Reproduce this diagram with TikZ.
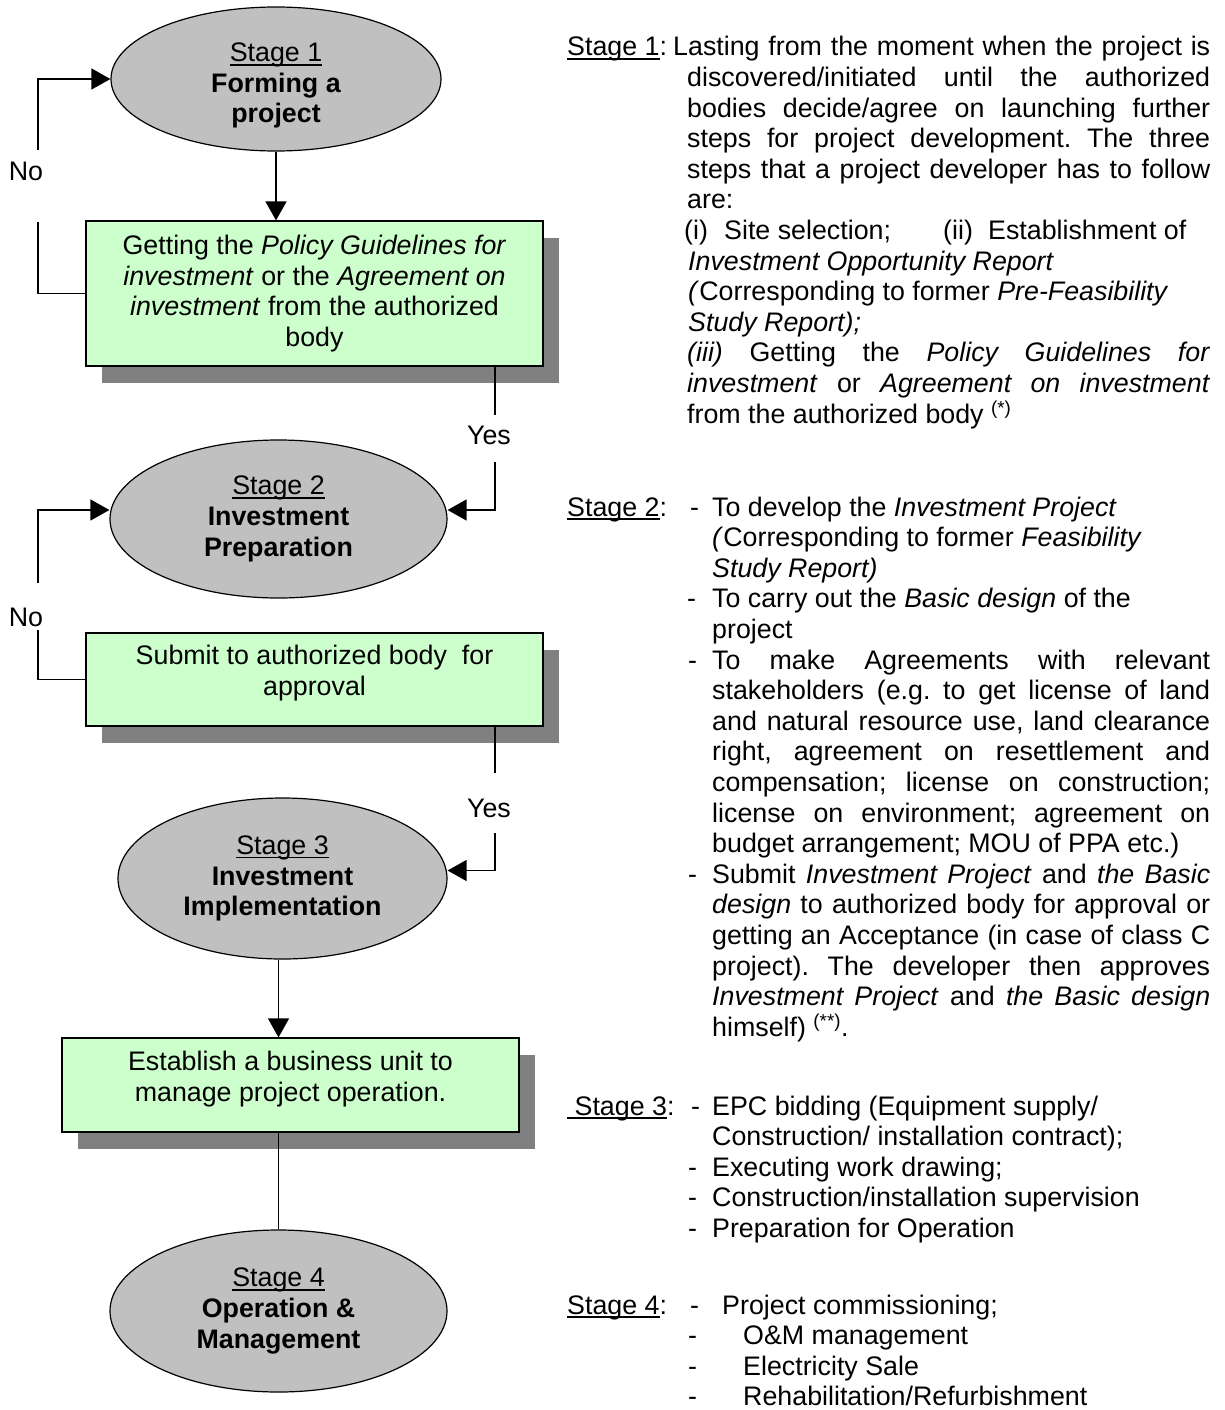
\documentclass[tikz,border=0pt]{standalone}
\usepackage{fontspec}
\setmainfont{Liberation Sans}
\usetikzlibrary{shapes.geometric,shadows,arrows.meta}
\definecolor{ellgray}{HTML}{C0C0C0}
\definecolor{boxgreen}{HTML}{CCFFCC}
\definecolor{shadowgray}{HTML}{808080}
\newcommand\jst[2]{\makebox[#1][s]{#2}}
\newsavebox\ulbox
\newcommand\stul[1]{\sbox\ulbox{#1}\rlap{\rule[-4pt]{\wd\ulbox}{1.6pt}}\usebox\ulbox}
\begin{document}
\begin{tikzpicture}[x=1pt,y=-1pt,
  every node/.style={font=\fontsize{26.8}{30.6}\selectfont\frenchspacing},
  stageell/.style={ellipse, draw, line width=1.2pt, fill=ellgray, inner sep=0pt, align=center},
  procbox/.style={rectangle, draw, line width=1.2pt, fill=boxgreen, inner sep=0pt, align=center,
    minimum width=457pt,
    drop shadow={shadow xshift=16pt, shadow yshift=-17pt, fill=shadowgray, opacity=1}},
  conn/.style={line width=1.3pt},
  arr/.style={conn, -{Triangle[length=19pt,width=21pt]}},
  lbl/.style={inner sep=0pt},
  desc/.style={anchor=base west, inner sep=0pt, align=left}
]
\fill[white] (0,0) rectangle (1224,1410);
\useasboundingbox (0,0) rectangle (1224,1410);

% ellipses
\node[stageell, minimum width=330pt, minimum height=144pt] (e1) at (276,79)
  {\rule{0pt}{32pt}\stul{Stage 1}\\\textbf{Forming a}\\\textbf{project}};
\node[stageell, minimum width=337pt, minimum height=158pt] (e2) at (278.5,519)
  {\stul{Stage 2}\\\textbf{Investment}\\\textbf{Preparation}};
\node[stageell, minimum width=329pt, minimum height=161pt] (e3) at (282.5,878.5)
  {\stul{Stage 3}\\\textbf{Investment}\\\textbf{Implementation}};
\node[stageell, minimum width=337pt, minimum height=162pt] (e4) at (278.5,1311)
  {\stul{Stage 4}\\\textbf{Operation \&}\\\textbf{Management}};

% boxes
\node[procbox, minimum height=145pt] (b1) at (314.5,293.5)
  {Getting the \textit{Policy Guidelines for}\\\textit{investment} or the \textit{Agreement on}\\\textit{investment} from the authorized\\body};
\node[procbox, minimum height=93pt] (b2) at (314.5,679.5)
  {Submit to authorized body\ \ for\\approval\rule[-18pt]{0pt}{0pt}};
\node[procbox, minimum height=94pt] (b3) at (290.5,1085)
  {Establish a business unit to\\manage project operation.\rule[-17pt]{0pt}{0pt}};

% free ends of connectors
\coordinate (n1lo) at (38,222);
\coordinate (n1hi) at (38,150);
\coordinate (n2lo) at (38,630);
\coordinate (n2hi) at (38,583);
\coordinate (y1lo) at (495,415);
\coordinate (y1hi) at (495,462);
\coordinate (y2lo) at (495,773);
\coordinate (y2hi) at (495,833);

% main flow
\draw[arr] (e1.south) -- (e1.south |- b1.north);
\draw[arr] (e3.south -| e4.north) -- (b3.north -| e4.north);
\draw[conn] (b3.south -| e4.north) -- (e4.north);

% No loops
\draw[conn] (b1.west) -| (n1lo);
\draw[arr] (n1hi) |- (e1.west);
\node[lbl] (no1) at (26,171) {No};
\draw[conn] (b2.west) -| (n2lo);
\draw[arr] (n2hi) |- ([yshift=9pt]e2.west);
\node[lbl] (no2) at (26,617) {No};

% Yes paths
\draw[conn] (b1.south -| y1lo) -- (y1lo);
\draw[arr] (y1hi) |- ([yshift=9pt]e2.east);
\node[lbl] (yes1) at (489,435) {Yes};
\draw[conn] (b2.south -| y2lo) -- (y2lo);
\draw[arr] (y2hi) |- ([yshift=8pt]e3.east);
\node[lbl] (yes2) at (489,808) {Yes};

% description texts
\node[desc] (s1) at (567,56) {\parbox[t]{660pt}{%
\makebox[106pt][l]{\stul{Stage 1}:}\jst{537pt}{Lasting from the moment when the project is}\\
\hspace*{120pt}\jst{523pt}{discovered/initiated until the authorized}\\
\hspace*{120pt}\jst{523pt}{bodies decide/agree on launching further}\\
\hspace*{120pt}\jst{523pt}{steps for project development. The three}\\
\hspace*{120pt}\jst{523pt}{steps that a project developer has to follow}\\
\hspace*{120pt}are:\\
\hspace*{117pt}\makebox[40pt][l]{(i)}\makebox[219pt][l]{Site selection;}\makebox[45pt][l]{(ii)}Establishment of\\
\hspace*{121pt}\textit{Investment Opportunity Report}\\
\hspace*{121pt}\textit{(}Corresponding to former \textit{Pre-Feasibility}\\
\hspace*{121pt}\textit{Study Report);}\\
\hspace*{120pt}\jst{523pt}{\textit{(iii)} Getting the \textit{Policy Guidelines for}}\\
\hspace*{120pt}\jst{523pt}{\textit{investment} or \textit{Agreement on investment}}\\
\hspace*{120pt}from the authorized body \textsuperscript{(*)}}};

\node[desc] (s2) at (567,516) {\parbox[t]{660pt}{%
\makebox[123pt][l]{\stul{Stage 2}:}\makebox[22pt][l]{-}To develop the \textit{Investment Project}\\
\hspace*{145pt}\textit{(}Corresponding to former \textit{Feasibility}\\
\hspace*{145pt}\textit{Study Report)}\\
\hspace*{120pt}\makebox[25pt][l]{-}To carry out the \textit{Basic design} of the\\
\hspace*{145pt}project\\
\hspace*{121pt}\makebox[24pt][l]{-}\jst{498pt}{To make Agreements with relevant}\\
\hspace*{145pt}\jst{498pt}{stakeholders (e.g. to get license of land}\\
\hspace*{145pt}\jst{498pt}{and natural resource use, land clearance}\\
\hspace*{145pt}\jst{498pt}{right, agreement on resettlement and}\\
\hspace*{145pt}\jst{498pt}{compensation; license on construction;}\\
\hspace*{145pt}\jst{498pt}{license on environment; agreement on}\\
\hspace*{145pt}budget arrangement; MOU of PPA etc.)\\
\hspace*{121pt}\makebox[24pt][l]{-}\jst{498pt}{Submit \textit{Investment Project} and \textit{the Basic}}\\
\hspace*{145pt}\jst{498pt}{\textit{design} to authorized body for approval or}\\
\hspace*{145pt}\jst{498pt}{getting an Acceptance (in case of class C}\\
\hspace*{145pt}\jst{498pt}{project). The developer then approves}\\
\hspace*{145pt}\jst{498pt}{\textit{Investment Project} and \textit{the Basic design}}\\
\hspace*{145pt}himself) \textsuperscript{(**)}.}};

\node[desc] (s3) at (567,1115) {\parbox[t]{660pt}{%
\makebox[124pt][l]{\stul{\ Stage 3}:}\makebox[21pt][l]{-}EPC bidding (Equipment supply/\\
\hspace*{145pt}Construction/ installation contract);\\
\hspace*{121pt}\makebox[24pt][l]{-}Executing work drawing;\\
\hspace*{121pt}\makebox[24pt][l]{-}Construction/installation supervision\\
\hspace*{121pt}\makebox[24pt][l]{-}Preparation for Operation}};

\node[desc] (s4) at (567,1314) {\parbox[t]{660pt}{%
\makebox[123pt][l]{\stul{Stage 4}:}\makebox[32pt][l]{-}Project commissioning;\\
\hspace*{121pt}\makebox[55pt][l]{-}O\&M management\\
\hspace*{121pt}\makebox[55pt][l]{-}Electricity Sale\\
\hspace*{121pt}\makebox[55pt][l]{-}Rehabilitation/Refurbishment}};
\end{tikzpicture}
\end{document}
